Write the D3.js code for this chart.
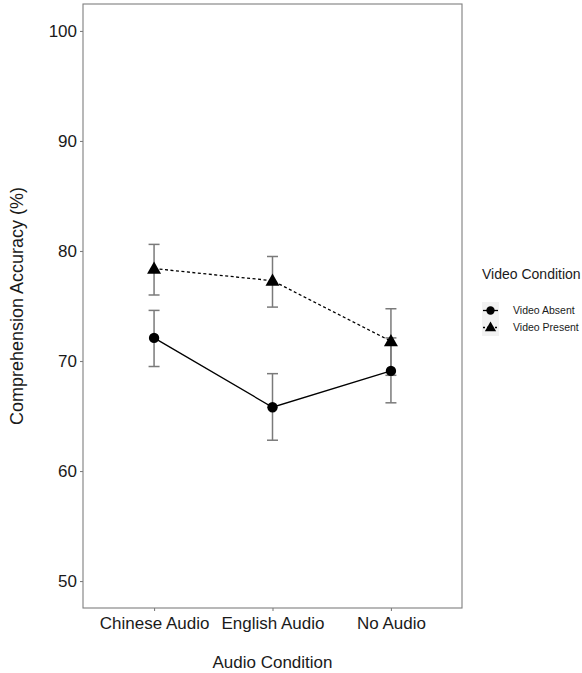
<!DOCTYPE html>
<html lang="en">
<head>
<meta charset="UTF-8" />
<title>Comprehension Accuracy</title>
<script src="https://d3js.org/d3.v7.min.js"></script>
<style>
  body { margin: 0; background: #fff; }
  text { font-family: "Liberation Sans", Arial, sans-serif; fill: #1a1a1a; }
</style>
</head>
<body>
<div id="chart"></div>
<script>
// data
const audioConditions = ["Chinese Audio", "English Audio", "No Audio"];
const seriesNames = ["Video Absent", "Video Present"];
const absentMean = [72.1, 65.8, 69.1];
const absentLow = [69.5, 62.8, 66.2];
const absentHigh = [74.6, 68.85, 72.1];
const presentMean = [78.4, 77.3, 71.8];
const presentLow = [76.0, 74.9, 68.7];
const presentHigh = [80.6, 79.5, 74.75];
const yTicks = [50, 60, 70, 80, 90, 100];

const width = 582, height = 673;
const panel = { left: 83, top: 4, right: 462, bottom: 608 };

const svg = d3.select("#chart").append("svg")
  .attr("width", width).attr("height", height);

const x = d3.scalePoint().domain(audioConditions)
  .range([panel.left, panel.right]).padding(0.6);
const y = d3.scaleLinear().domain([47.55, 102.45])
  .range([panel.bottom, panel.top]);

// axes
const yAxis = svg.append("g").attr("transform", `translate(${panel.left},0)`)
  .call(d3.axisLeft(y).tickValues(yTicks).tickSize(3).tickPadding(3));
const xAxis = svg.append("g").attr("transform", `translate(0,${panel.bottom})`)
  .call(d3.axisBottom(x).tickSize(3).tickPadding(4));
[yAxis, xAxis].forEach(g => {
  g.select(".domain").remove();
  g.selectAll("line").attr("stroke", "#7f7f7f").attr("stroke-width", 1.1);
  g.selectAll("text").style("font-size", "17px").attr("fill", "#1a1a1a");
});
xAxis.selectAll("text").attr("dy", "0.8em");

// panel border
svg.append("rect")
  .attr("x", panel.left).attr("y", panel.top)
  .attr("width", panel.right - panel.left).attr("height", panel.bottom - panel.top)
  .attr("fill", "none").attr("stroke", "#7f7f7f").attr("stroke-width", 1.1);

const series = [
  { name: seriesNames[0], mean: absentMean, low: absentLow, high: absentHigh, dash: null, shape: d3.symbolCircle },
  { name: seriesNames[1], mean: presentMean, low: presentLow, high: presentHigh, dash: "3,2.5", shape: d3.symbolTriangle }
];

const line = d3.line().x((d, i) => x(audioConditions[i])).y(d => y(d));
const capW = 11;

// error bars first
series.forEach(s => {
  const g = svg.append("g").attr("stroke", "#7a7a7a").attr("stroke-width", 1.5).attr("fill", "none");
  audioConditions.forEach((c, i) => {
    const cx = x(c);
    g.append("line").attr("x1", cx).attr("x2", cx).attr("y1", y(s.low[i])).attr("y2", y(s.high[i]));
    g.append("line").attr("x1", cx - capW / 2).attr("x2", cx + capW / 2).attr("y1", y(s.low[i])).attr("y2", y(s.low[i]));
    g.append("line").attr("x1", cx - capW / 2).attr("x2", cx + capW / 2).attr("y1", y(s.high[i])).attr("y2", y(s.high[i]));
  });
});

// lines and points
series.forEach(s => {
  svg.append("path").datum(s.mean)
    .attr("d", line).attr("fill", "none").attr("stroke", "#000")
    .attr("stroke-width", 1.3).attr("stroke-dasharray", s.dash);
  svg.selectAll(null).data(s.mean).enter().append("path")
    .attr("transform", (d, i) => `translate(${x(audioConditions[i])},${y(d) + (s.shape === d3.symbolTriangle ? 1 : 0)})`)
    .attr("d", d3.symbol().type(s.shape).size(85))
    .attr("fill", "#000");
});

// axis titles
svg.append("text")
  .attr("transform", `translate(23,${(panel.top + panel.bottom) / 2}) rotate(-90)`)
  .attr("text-anchor", "middle").style("font-size", "18px")
  .text("Comprehension Accuracy (%)");
svg.append("text")
  .attr("x", (panel.left + panel.right) / 2).attr("y", 668)
  .attr("text-anchor", "middle").style("font-size", "17px")
  .text("Audio Condition");

// legend
const legend = svg.append("g").attr("transform", "translate(482,0)");
legend.append("text").attr("x", 0).attr("y", 279).style("font-size", "14px").text("Video Condition");
const keySize = 17;
series.forEach((s, i) => {
  const ky = 302 + i * keySize;
  const k = legend.append("g").attr("transform", `translate(0,${ky})`);
  k.append("rect").attr("width", keySize).attr("height", keySize).attr("fill", "#f2f2f2");
  k.append("line").attr("x1", 1).attr("x2", keySize - 1).attr("y1", keySize / 2).attr("y2", keySize / 2)
    .attr("stroke", "#000").attr("stroke-width", 1.3).attr("stroke-dasharray", s.dash ? "2,2" : null);
  k.append("path").attr("transform", `translate(${keySize / 2},${keySize / 2 + (s.shape === d3.symbolTriangle ? 0.5 : 0)})`)
    .attr("d", d3.symbol().type(s.shape).size(55)).attr("fill", "#000");
  k.append("text").attr("x", 31).attr("y", keySize / 2).attr("dy", "0.35em")
    .style("font-size", "10.5px").text(s.name);
});
</script>
</body>
</html>
